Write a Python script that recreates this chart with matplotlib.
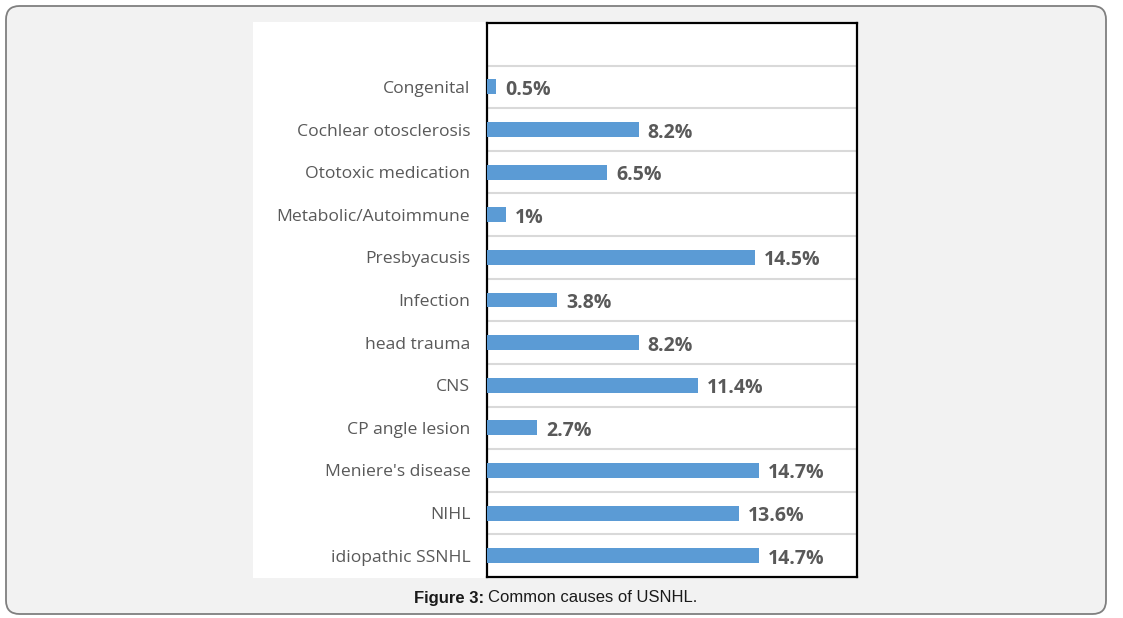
import matplotlib
matplotlib.use("Agg")
import matplotlib.pyplot as plt
from matplotlib.patches import FancyBboxPatch, Rectangle
import numpy as np

categories = ["Congenital", "Cochlear otosclerosis", "Ototoxic medication",
              "Metabolic/Autoimmune", "Presbyacusis", "Infection", "head trauma",
              "CNS", "CP angle lesion", "Meniere's disease", "NIHL", "idiopathic SSNHL"]
values = [0.5, 8.2, 6.5, 1, 14.5, 3.8, 8.2, 11.4, 2.7, 14.7, 13.6, 14.7]
value_labels = ["0.5%", "8.2%", "6.5%", "1%", "14.5%", "3.8%", "8.2%",
                "11.4%", "2.7%", "14.7%", "13.6%", "14.7%"]

W, H = 1123, 618
fig = plt.figure(figsize=(W / 100, H / 100), dpi=100)
fig.patch.set_facecolor("white")

def fx(px):
    return px / W

def fy(py):
    return 1 - py / H

# outer rounded panel
outer = FancyBboxPatch((fx(6), fy(614)), fx(1106) - fx(6), fy(6) - fy(614),
                       boxstyle="round,pad=0,rounding_size=0.012",
                       transform=fig.transFigure, facecolor="#f2f2f2",
                       edgecolor="#7f7f7f", linewidth=1.3, mutation_aspect=W / H,
                       zorder=-5)
fig.patches.append(outer)
# white chart panel
panel = Rectangle((fx(253), fy(578)), fx(858) - fx(253), fy(22) - fy(578),
                  transform=fig.transFigure, facecolor="white", edgecolor="none",
                  zorder=-4)
fig.patches.append(panel)

ax = fig.add_axes([fx(487), fy(577), fx(857) - fx(487), fy(23) - fy(577)])
ax.set_facecolor("white")

n = len(categories)
ypos = np.arange(n)[::-1]
ax.barh(ypos, values, height=0.35, color="#5b9bd5", zorder=3)

ax.set_xlim(0, 20)
ax.set_ylim(-0.5, n + 0.5)
ax.set_xticks([])
ax.set_yticks(ypos)
ax.set_yticklabels(categories, fontsize=12.6, color="#595959", family=["Open Sans", "DejaVu Sans"])
ax.tick_params(axis="y", length=0, pad=12)
ax.set_yticks(np.arange(0.5, n, 1.0), minor=True)
ax.tick_params(axis="y", which="minor", length=0)
ax.grid(axis="y", which="minor", color="#d9d9d9", linewidth=1.5, zorder=0)
ax.grid(axis="y", which="major", visible=False)

for s in ax.spines.values():
    s.set_color("black")
    s.set_linewidth(1.6)

for y, v, lab in zip(ypos, values, value_labels):
    ax.annotate(lab, (v, y), xytext=(9, -3), textcoords="offset pixels",
                ha="left", va="center", fontsize=14, fontweight="bold",
                color="#595959", family=["Open Sans", "DejaVu Sans"])

fig.text(fx(484), fy(598), "Figure 3:", ha="right", va="center", fontsize=12,
         fontweight="bold", color="#1a1a1a", family=["Liberation Sans", "DejaVu Sans"])
fig.text(fx(488), fy(598), "Common causes of USNHL.", ha="left", va="center",
         fontsize=12, color="#1a1a1a", family=["Liberation Sans", "DejaVu Sans"])

fig.savefig("out.png", dpi=100, facecolor=fig.get_facecolor())
